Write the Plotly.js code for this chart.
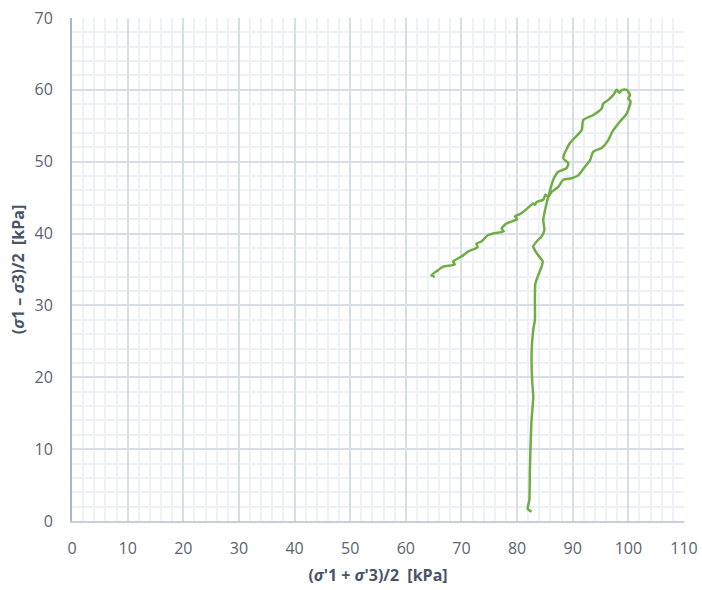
<!DOCTYPE html>
<html>
<head>
<meta charset="utf-8">
<script src="https://cdn.plot.ly/plotly-3.0.1.min.js"></script>
<style>html,body{margin:0;padding:0;background:#fff;}#chart{width:702px;height:590px;}</style>
</head>
<body>
<div id="chart"></div>
<script>
// Stress path: p' = (σ'1+σ'3)/2 [kPa], q = (σ1-σ3)/2 [kPa]
const pVals = [82.6, 81.9, 82.2, 82.3, 82.4, 82.6, 82.9, 82.7, 82.6, 82.9, 83.2, 83.2, 83.3, 84.4, 84.6, 83.5, 82.9, 83.5, 84.4, 84.9, 84.7, 85.3, 85.6, 86.5, 87.4, 88.9, 89.2, 88.3, 89.5, 91.6, 91.9, 93.7, 95.2, 95.5, 96.4, 97.3, 97.9, 98.4, 98.9, 99.7, 100.3, 100.0, 100.4, 99.7, 98.5, 97.3, 97.0, 96.4, 95.2, 93.7, 93.1, 92.2, 91.0, 89.8, 88.3, 87.4, 86.2, 85.6, 85.1, 84.7, 83.5, 83.2, 82.9, 81.7, 80.5, 79.6, 80.0, 78.1, 77.2, 77.6, 75.7, 74.8, 73.6, 72.7, 72.9, 71.2, 70.0, 68.5, 68.8, 66.7, 65.8, 64.6, 65.2];
const qVals = [1.3, 1.7, 2.9, 7.1, 9.9, 14.1, 17.3, 19.6, 23.4, 26.6, 28.0, 31.2, 33.1, 35.4, 36.1, 37.3, 38.2, 38.9, 39.6, 40.5, 41.9, 44.2, 45.1, 47.5, 48.6, 49.1, 49.8, 50.5, 52.6, 54.4, 55.8, 56.5, 57.4, 58.1, 58.6, 59.3, 60.0, 59.6, 60.0, 60.0, 59.3, 58.8, 58.4, 56.7, 55.6, 54.4, 54.0, 53.0, 51.9, 51.4, 50.2, 49.3, 48.1, 47.7, 47.5, 46.5, 45.8, 45.1, 45.4, 44.7, 44.4, 44.0, 44.2, 43.4, 42.7, 42.4, 42.0, 41.4, 40.7, 40.3, 40.0, 39.8, 38.9, 38.6, 38.1, 37.5, 36.8, 36.1, 35.7, 35.4, 34.9, 34.2, 34.0];
const xTitle = "(<i>σ</i>'1 + <i>σ</i>'3)/2  [kPa]";
const yTitle = "(<i>σ</i>1 – <i>σ</i>3)/2  [kPa]";

const font = "'Open Sans', 'Liberation Sans', sans-serif";
const tickColor = "#5b6372";
const trace = {
  x: pVals, y: qVals, type: "scatter", mode: "lines",
  line: {color: "#70AD47", width: 2.5, shape: "spline", smoothing: 0.6},
  hoverinfo: "skip"
};
const layout = {
  width: 702, height: 590,
  margin: {l: 72, r: 18, t: 18, b: 69},
  paper_bgcolor: "#ffffff", plot_bgcolor: "#ffffff",
  showlegend: false,
  font: {family: font, color: tickColor},
  xaxis: {
    range: [0, 110], dtick: 10, tick0: 0,
    showgrid: true, gridcolor: "#D8DEE8", gridwidth: 2,
    minor: {dtick: 2, showgrid: true, gridcolor: "#EEF1F6", gridwidth: 2},
    showline: true, linecolor: "#C9CFD8", linewidth: 1.5,
    zeroline: false,
    ticks: "outside", ticklen: 12, tickcolor: "rgba(0,0,0,0)",
    tickfont: {size: 16, color: tickColor, family: font},
    title: {text: xTitle, font: {size: 16, color: "#4a5468", family: font, weight: "bold"}, standoff: 12}
  },
  yaxis: {
    range: [0, 70], dtick: 10, tick0: 0,
    showgrid: true, gridcolor: "#D8DEE8", gridwidth: 2,
    minor: {dtick: 2, showgrid: true, gridcolor: "#EEF1F6", gridwidth: 2},
    showline: true, linecolor: "#A9B6CB", linewidth: 2,
    zeroline: false,
    ticks: "outside", ticklen: 14, tickcolor: "rgba(0,0,0,0)",
    tickfont: {size: 16, color: tickColor, family: font},
    title: {text: yTitle, font: {size: 16, color: "#4a5468", family: font, weight: "bold"}, standoff: 6}
  }
};
Plotly.newPlot("chart", [trace], layout, {staticPlot: true, displayModeBar: false});
</script>
</body>
</html>
